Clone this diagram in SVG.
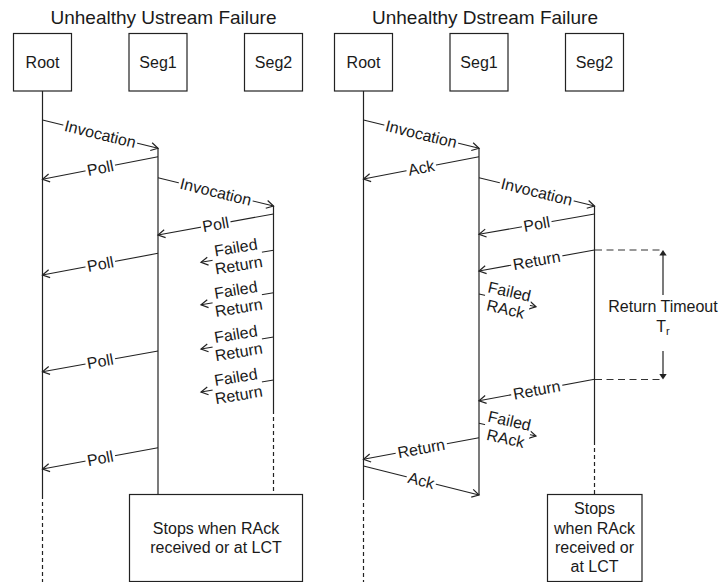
<svg xmlns="http://www.w3.org/2000/svg" width="719" height="582" viewBox="0 0 719 582">
  <style>
    text { font-family: "Liberation Sans", Arial, sans-serif; font-size: 16px; fill: #1a1a1a; text-anchor: middle; }
    .title { font-size: 19px; }
    .box { fill: #ffffff; stroke: #222; stroke-width: 1.2; }
    .life { stroke: #222; stroke-width: 1.2; fill: none; }
    .dash { stroke: #222; stroke-width: 1.2; fill: none; stroke-dasharray: 4 3; }
    .msg { stroke: #222; stroke-width: 1.1; fill: none; marker-end: url(#open); }
    .bg { fill: #ffffff; }
    .guide { stroke: #333; stroke-width: 1.1; fill: none; stroke-dasharray: 7 4.5; }
  </style>
  <defs>
    <marker id="open" viewBox="0 0 10 10" refX="8" refY="5" markerWidth="10" markerHeight="10" orient="auto" markerUnits="userSpaceOnUse">
      <path d="M1,1 L8,5 L1,9" fill="none" stroke="#222" stroke-width="1.2"/>
    </marker>
  </defs>

  <rect width="719" height="582" fill="#ffffff"/>

  <!-- titles -->
  <text class="title" x="163.5" y="24">Unhealthy Ustream Failure</text>
  <text class="title" x="485" y="24">Unhealthy Dstream Failure</text>

  <!-- left scenario: participants and lifelines -->
  <g id="u-root">
    <line class="life" x1="42.5" y1="91" x2="42.5" y2="495"/>
    <line class="dash" x1="42.5" y1="495" x2="42.5" y2="582"/>
    <rect class="box" x="13.5" y="33.5" width="58" height="57.5"/>
    <text x="42.5" y="68">Root</text>
  </g>
  <g id="u-seg1">
    <line class="life" x1="158" y1="148" x2="158" y2="494.5"/>
    <rect class="box" x="129" y="33.5" width="58" height="57.5"/>
    <text x="158" y="68">Seg1</text>
  </g>
  <g id="u-seg2">
    <line class="life" x1="273.5" y1="206" x2="273.5" y2="410"/>
    <line class="dash" x1="273.5" y1="410" x2="273.5" y2="494.5"/>
    <rect class="box" x="244.5" y="33.5" width="58" height="57.5"/>
    <text x="273.5" y="68">Seg2</text>
  </g>
  <g id="u-note">
    <rect class="box" x="129.5" y="494.5" width="173" height="87"/>
    <text x="216" y="533.5">Stops when RAck</text>
    <text x="216" y="552.5">received or at LCT</text>
  </g>

  <!-- right scenario: participants and lifelines -->
  <g id="d-root">
    <line class="life" x1="363.5" y1="91" x2="363.5" y2="496"/>
    <line class="dash" x1="363.5" y1="496" x2="363.5" y2="582"/>
    <rect class="box" x="334.5" y="33.5" width="58" height="57.5"/>
    <text x="363.5" y="68">Root</text>
  </g>
  <g id="d-seg1">
    <line class="life" x1="479" y1="148" x2="479" y2="495"/>
    <rect class="box" x="450" y="33.5" width="58" height="57.5"/>
    <text x="479" y="68">Seg1</text>
  </g>
  <g id="d-seg2">
    <line class="life" x1="594.5" y1="206" x2="594.5" y2="441"/>
    <line class="dash" x1="594.5" y1="441" x2="594.5" y2="494.5"/>
    <rect class="box" x="565.5" y="33.5" width="58" height="57.5"/>
    <text x="594.5" y="68">Seg2</text>
  </g>
  <g id="d-note">
    <rect class="box" x="547.5" y="494.5" width="94.5" height="87"/>
    <text x="594.5" y="514">Stops</text>
    <text x="594.5" y="533.5">when RAck</text>
    <text x="594.5" y="552.5">received or</text>
    <text x="594.5" y="571.5">at LCT</text>
  </g>

  <!-- return timeout bracket -->
  <g id="d-timeout">
    <line class="guide" x1="595" y1="250" x2="663" y2="250"/>
    <line class="guide" x1="595" y1="379.5" x2="663" y2="379.5"/>
    <line class="life" x1="663" y1="254" x2="663" y2="295"/>
    <line class="life" x1="663" y1="351" x2="663" y2="375"/>
    <polygon points="663,250 659.3,255.5 666.7,255.5" fill="#222"/>
    <polygon points="663,379.5 659.3,374 666.7,374" fill="#222"/>
    <text x="663" y="311.5">Return Timeout</text>
    <text x="663" y="331.5">T<tspan font-size="11" dy="3">r</tspan></text>
  </g>

  <!-- messages -->
  <g id="connectors">
    <!-- left scenario -->
    <line class="msg" x1="42.5" y1="120" x2="158" y2="148.3"/>
    <g transform="translate(100.25,134.15) rotate(13.77)"><rect class="bg" x="-38" y="-7" width="76" height="14"/><text y="5.5">Invocation</text></g>

    <line class="msg" x1="158" y1="156.7" x2="42.5" y2="179.3"/>
    <g transform="translate(100.25,168) rotate(-11.07)"><rect class="bg" x="-15" y="-7" width="30" height="14"/><text y="5.5">Poll</text></g>

    <line class="msg" x1="158" y1="177.7" x2="273.5" y2="206"/>
    <g transform="translate(215.75,191.85) rotate(13.77)"><rect class="bg" x="-38" y="-7" width="76" height="14"/><text y="5.5">Invocation</text></g>

    <line class="msg" x1="273.5" y1="214" x2="158" y2="235"/>
    <g transform="translate(215.75,224.5) rotate(-10.3)"><rect class="bg" x="-15" y="-7" width="30" height="14"/><text y="5.5">Poll</text></g>

    <line class="msg" x1="158" y1="253.3" x2="42.5" y2="275"/>
    <g transform="translate(100.25,264.15) rotate(-10.64)"><rect class="bg" x="-15" y="-7" width="30" height="14"/><text y="5.5">Poll</text></g>

    <line class="msg" x1="273.5" y1="250.3" x2="201" y2="262.3"/>
    <g transform="translate(237.25,256.3) rotate(-9.4)"><rect class="bg" x="-25" y="-17" width="50" height="34"/><text y="-3.5">Failed</text><text y="14.5">Return</text></g>

    <line class="msg" x1="273.5" y1="292.8" x2="201" y2="304.8"/>
    <g transform="translate(237.25,298.8) rotate(-9.4)"><rect class="bg" x="-25" y="-17" width="50" height="34"/><text y="-3.5">Failed</text><text y="14.5">Return</text></g>

    <line class="msg" x1="273.5" y1="337" x2="201" y2="349"/>
    <g transform="translate(237.25,343) rotate(-9.4)"><rect class="bg" x="-25" y="-17" width="50" height="34"/><text y="-3.5">Failed</text><text y="14.5">Return</text></g>

    <line class="msg" x1="158" y1="351" x2="42.5" y2="371.7"/>
    <g transform="translate(100.25,361.35) rotate(-10.16)"><rect class="bg" x="-15" y="-7" width="30" height="14"/><text y="5.5">Poll</text></g>

    <line class="msg" x1="273.5" y1="380" x2="201" y2="392"/>
    <g transform="translate(237.25,386) rotate(-9.4)"><rect class="bg" x="-25" y="-17" width="50" height="34"/><text y="-3.5">Failed</text><text y="14.5">Return</text></g>

    <line class="msg" x1="158" y1="447.7" x2="42.5" y2="469"/>
    <g transform="translate(100.25,458.35) rotate(-10.45)"><rect class="bg" x="-15" y="-7" width="30" height="14"/><text y="5.5">Poll</text></g>

    <!-- right scenario -->
    <line class="msg" x1="363.5" y1="120" x2="479" y2="148.3"/>
    <g transform="translate(421.25,134.15) rotate(13.77)"><rect class="bg" x="-38" y="-7" width="76" height="14"/><text y="5.5">Invocation</text></g>

    <line class="msg" x1="479" y1="156.7" x2="363.5" y2="179"/>
    <g transform="translate(421.25,167.85) rotate(-10.94)"><rect class="bg" x="-15" y="-7" width="30" height="14"/><text y="5.5">Ack</text></g>

    <line class="msg" x1="479" y1="177.7" x2="594.5" y2="206"/>
    <g transform="translate(536.75,191.85) rotate(13.77)"><rect class="bg" x="-38" y="-7" width="76" height="14"/><text y="5.5">Invocation</text></g>

    <line class="msg" x1="594.5" y1="214" x2="479" y2="234.3"/>
    <g transform="translate(536.75,224.15) rotate(-9.97)"><rect class="bg" x="-15" y="-7" width="30" height="14"/><text y="5.5">Poll</text></g>

    <line class="msg" x1="594.5" y1="250" x2="479" y2="271"/>
    <g transform="translate(536.75,260.5) rotate(-10.3)"><rect class="bg" x="-26" y="-7" width="52" height="14"/><text y="5.5">Return</text></g>

    <line class="msg" x1="479" y1="294" x2="536" y2="306.7"/>
    <g transform="translate(507.5,300.35) rotate(12.56)"><rect class="bg" x="-23" y="-17" width="46" height="34"/><text y="-3.5">Failed</text><text y="14.5">RAck</text></g>

    <line class="msg" x1="594.5" y1="379.3" x2="479" y2="400.7"/>
    <g transform="translate(536.75,390) rotate(-10.5)"><rect class="bg" x="-26" y="-7" width="52" height="14"/><text y="5.5">Return</text></g>

    <line class="msg" x1="479" y1="423.3" x2="536" y2="436"/>
    <g transform="translate(507.5,429.65) rotate(12.56)"><rect class="bg" x="-23" y="-17" width="46" height="34"/><text y="-3.5">Failed</text><text y="14.5">RAck</text></g>

    <line class="msg" x1="479" y1="437.7" x2="363.5" y2="459.3"/>
    <g transform="translate(421.25,448.5) rotate(-10.59)"><rect class="bg" x="-26" y="-7" width="52" height="14"/><text y="5.5">Return</text></g>

    <line class="msg" x1="363.5" y1="466" x2="479" y2="495"/>
    <g transform="translate(421.25,480.5) rotate(14.1)"><rect class="bg" x="-15" y="-7" width="30" height="14"/><text y="5.5">Ack</text></g>
  </g>
</svg>
